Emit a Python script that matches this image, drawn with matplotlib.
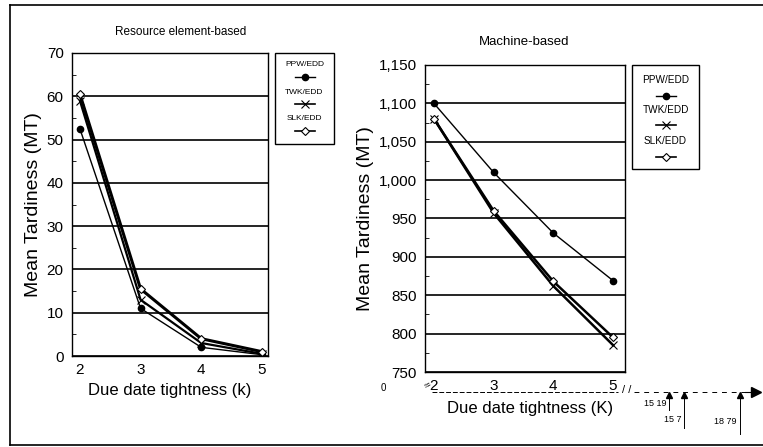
import matplotlib
matplotlib.use("Agg")
import matplotlib.pyplot as plt
from matplotlib.lines import Line2D
from matplotlib.patches import Rectangle
from matplotlib.ticker import MultipleLocator, FuncFormatter

plt.rcParams['font.family'] = ['Liberation Sans', 'DejaVu Sans']

# due date tightness
k = [2, 3, 4, 5]

# resource element-based mean tardiness
re_ppw = [52.5, 11.0, 2.0, 0.3]
re_twk = [59.0, 13.0, 3.0, 0.5]
re_slk = [60.5, 15.5, 4.0, 1.0]

# machine-based mean tardiness
mb_ppw = [1100, 1010, 931, 869]
mb_twk = [1080, 957, 862, 785]
mb_slk = [1080, 960, 868, 795]

# off-scale values marked below the machine-based axis
off_labels = ['15 19', '15 7', '18 79']

series_names = ['PPW/EDD', 'TWK/EDD', 'SLK/EDD']

W, H = 763, 447
fig = plt.figure(figsize=(W / 100, H / 100), dpi=100, facecolor='white')


def fx(px):
    return px / W


def fy(py):
    return 1 - py / H


# outer frame (top, left, bottom)
for xs, ys in [([10, 763], [5, 5]), ([10, 10], [5, 445]), ([10, 763], [445, 445])]:
    fig.add_artist(Line2D([fx(x) for x in xs], [fy(y) for y in ys], color='black', lw=1.2))

styles = {
    'PPW/EDD': dict(marker='o', ms=4.5, mfc='black', mec='black', color='black'),
    'TWK/EDD': dict(marker='x', ms=6, mew=0.8, color='black'),
    'SLK/EDD': dict(marker='D', ms=4, mfc='white', mec='black', mew=0.8, color='black'),
}


def style_axes(ax, major, minor):
    ax.yaxis.set_major_locator(MultipleLocator(major))
    ax.yaxis.set_minor_locator(MultipleLocator(minor))
    ax.grid(axis='y', which='major', color='black', lw=1.2)
    ax.set_axisbelow(True)
    for s in ax.spines.values():
        s.set_linewidth(1.0)
    ax.tick_params(axis='y', which='major', direction='in', length=0, labelsize=11, pad=6)
    ax.tick_params(axis='y', which='minor', direction='in', length=3)
    ax.tick_params(axis='x', direction='out', length=0, labelsize=11, pad=5)
    ax.set_xticks(k)


# ---- left: resource element-based
ax1 = fig.add_axes([fx(72), fy(356), fx(268) - fx(72), fy(53) - fy(356)])
ax1.plot(k, re_ppw, lw=1.0, **styles['PPW/EDD'])
ax1.plot(k, re_twk, lw=1.6, **styles['TWK/EDD'])
ax1.plot(k, re_slk, lw=2.2, **styles['SLK/EDD'])
ax1.set_xlim(1.87, 5.1)
ax1.set_ylim(0, 70)
style_axes(ax1, 10, 5)
ax1.set_ylabel('Mean Tardiness (MT)', fontsize=14, labelpad=3)
fig.text(fx(170), fy(390), 'Due date tightness (k)', fontsize=12, ha='center', va='center')
fig.text(fx(181), fy(32), 'Resource element-based', fontsize=8.5, ha='center', va='center')

# ---- right: machine-based
ax2 = fig.add_axes([fx(425), fy(372), fx(625) - fx(425), fy(65) - fy(372)])
ax2.plot(k, mb_ppw, lw=1.0, **styles['PPW/EDD'])
ax2.plot(k, mb_twk, lw=1.8, **styles['TWK/EDD'])
ax2.plot(k, mb_slk, lw=1.8, **styles['SLK/EDD'])
ax2.set_xlim(1.85, 5.2)
ax2.set_ylim(750, 1150)
style_axes(ax2, 50, 25)
ax2.yaxis.set_major_formatter(FuncFormatter(lambda v, p: f'{int(v):,}'))
ax2.set_ylabel('Mean Tardiness (MT)', fontsize=14, labelpad=3)
ax2.tick_params(axis='x', pad=5)
fig.text(fx(530), fy(408), 'Due date tightness (K)', fontsize=12, ha='center', va='center')
fig.text(fx(524), fy(42), 'Machine-based', fontsize=9.5, ha='center', va='center')

# broken axis sketch under the machine-based chart
fig.text(fx(383), fy(388), '0', fontsize=7, ha='center', va='center')
fig.text(fx(428), fy(386), '\u2248', fontsize=8, ha='center', va='center', rotation=30)
fig.add_artist(Line2D([fx(432), fx(618)], [fy(392), fy(392)], color='black', lw=0.7, ls=(0, (5, 2))))
fig.text(fx(627), fy(390), '/ /', fontsize=8, ha='center', va='center')
fig.add_artist(Line2D([fx(634), fx(745)], [fy(392), fy(392)], color='black', lw=0.7, ls=(0, (5, 5))))
fig.add_artist(Line2D([fx(745), fx(756)], [fy(392), fy(392)], color='black', lw=0.8))
fig.add_artist(Line2D([fx(756)], [fy(392)], marker='>', ms=7, color='black', ls='none'))
arrow_x = [669, 684, 740]
arrow_bottom = [410, 428, 434]
label_pos = [(666, 403), (681, 420), (737, 422)]
for ax_px, bot, lab, (lx, ly) in zip(arrow_x, arrow_bottom, off_labels, label_pos):
    fig.add_artist(Line2D([fx(ax_px), fx(ax_px)], [fy(bot), fy(395)], color='black', lw=0.7))
    fig.add_artist(Line2D([fx(ax_px)], [fy(395)], marker='^', ms=4, color='black', ls='none'))
    fig.text(fx(lx), fy(ly), lab, fontsize=6.5, ha='right', va='center')


# ---- legend boxes (label above sample line)
def legend_box(x0, x1, y0, y1, text_ys, line_ys, lws, size):
    fig.add_artist(Rectangle((fx(x0), fy(y1)), fx(x1) - fx(x0), fy(y0) - fy(y1),
                             transform=fig.transFigure, fill=False, ec='black', lw=1.0))
    cx = (x0 + x1) / 2
    for name, ty, ly, lw in zip(series_names, text_ys, line_ys, lws):
        fig.text(fx(cx), fy(ty), name, fontsize=size, ha='center', va='center')
        fig.add_artist(Line2D([fx(cx - 10), fx(cx), fx(cx + 10)], [fy(ly)] * 3, lw=lw,
                              markevery=[1], **styles[name]))


legend_box(275, 334, 53, 144, [65, 92, 119], [77, 104, 131], [1.0, 1.2, 1.2], 6)
legend_box(632, 699, 65, 169, [80, 110, 141], [96, 125, 157], [1.0, 1.2, 1.2], 7.2)

fig.savefig('out.png', dpi=100, facecolor='white')
